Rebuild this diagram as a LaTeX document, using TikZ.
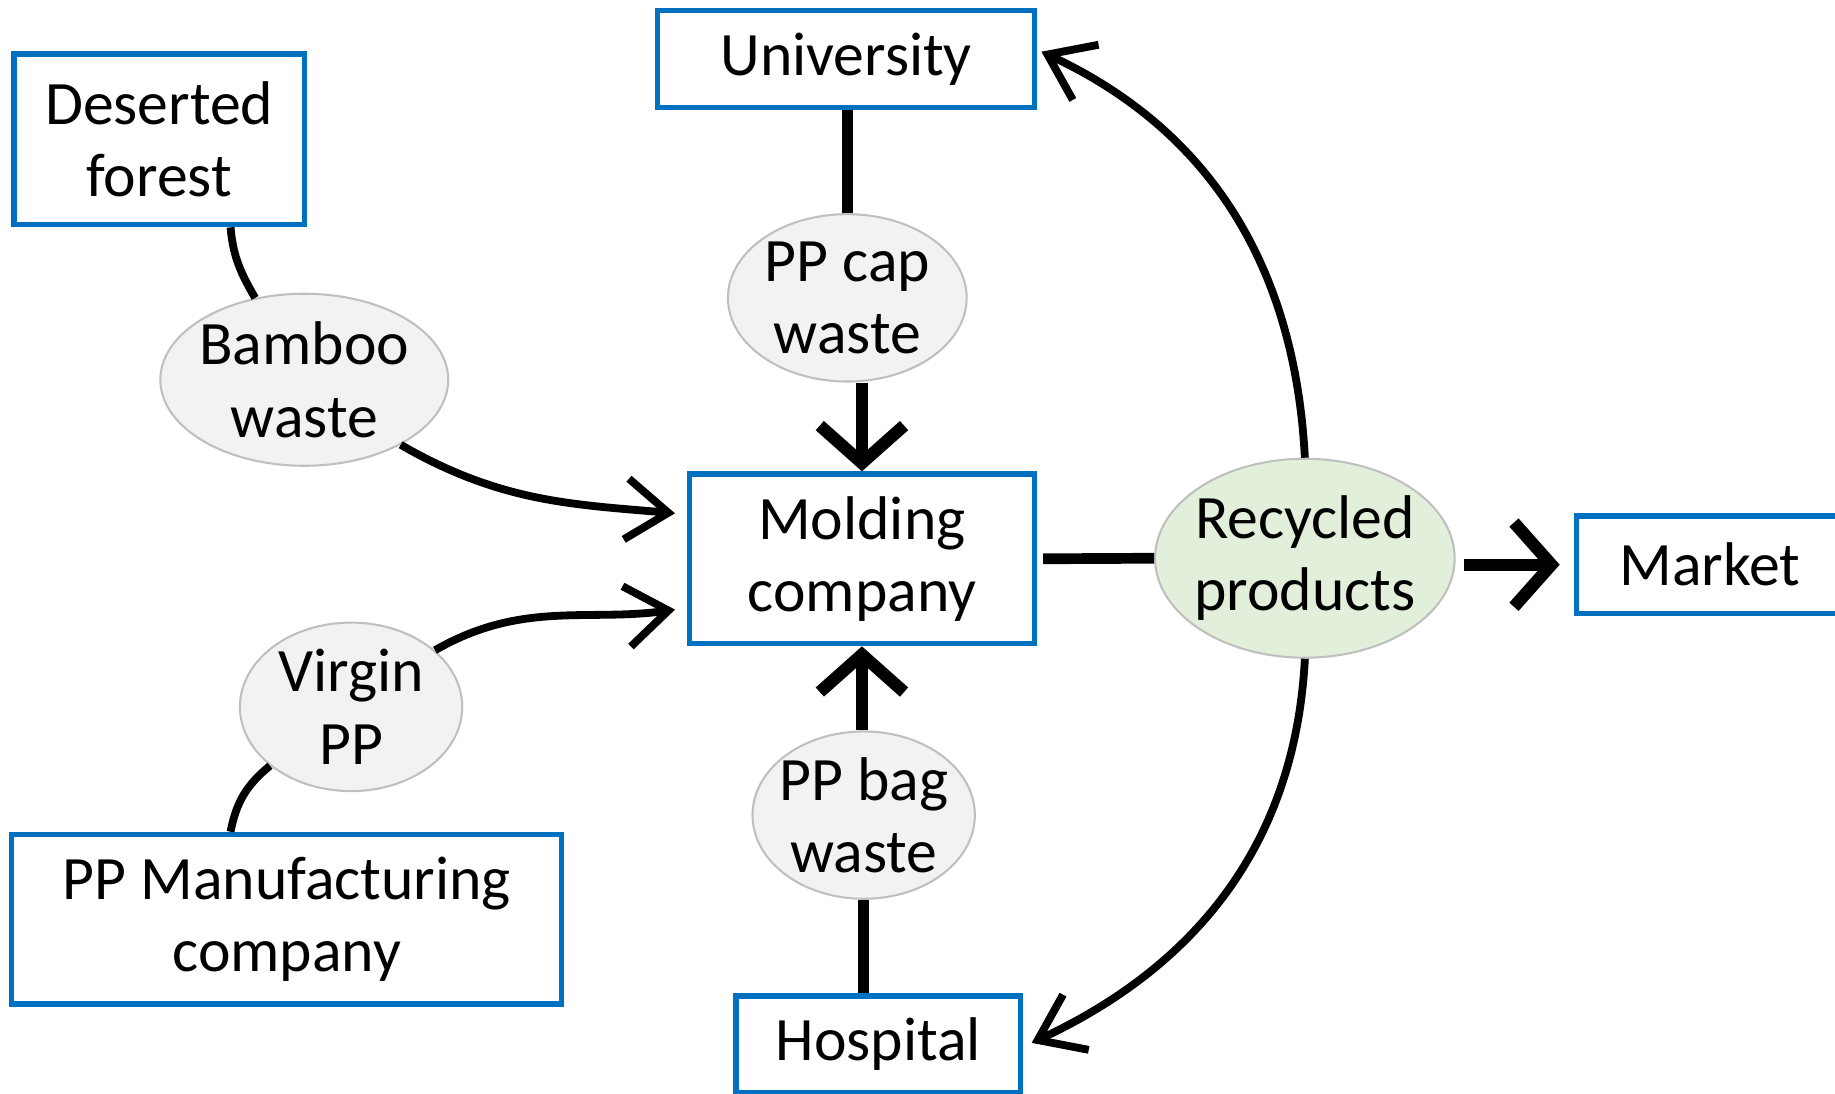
\documentclass[tikz,border=0pt]{standalone}
\usepackage{fontspec}
\setmainfont{Carlito}
\usetikzlibrary{arrows.meta}
\usetikzlibrary{shapes.geometric}

\definecolor{boxblue}{RGB}{0,112,192}
\definecolor{wastegray}{RGB}{242,242,242}
\definecolor{productgreen}{RGB}{226,239,218}

\begin{document}
\begin{tikzpicture}[
	actor/.style={draw=boxblue, line width=1.3pt, fill=white, align=center, inner sep=0pt, font=\fontsize{15pt}{17.6pt}\selectfont},
	flow/.style={ellipse, draw=black!25, line width=0.5pt, fill=wastegray, align=center, inner sep=0pt, inner xsep=-3pt, font=\fontsize{15pt}{17.6pt}\selectfont},
	link/.style={line width=1.9pt},
	thicklink/.style={line width=2.6pt},
	feed/.style={line width=1.9pt, -{Straight Barb[length=0.36cm, width=0.52cm]}},
	bigfeed/.style={line width=3pt, -{Straight Barb[length=0.32cm, width=0.72cm]}}
]
	\useasboundingbox (0,0) rectangle (15.68,9.34);
	\node[actor, minimum width=2.48cm, minimum height=1.46cm] (forest) at (1.36,8.15) {Deserted\\forest};
	\node[actor, minimum width=3.22cm, minimum height=0.83cm] (univ) at (7.23,8.835) {University};
	\node[actor, minimum width=2.95cm, minimum height=1.45cm] (molding) at (7.365,4.565) {Molding\\company};
	\node[actor, minimum width=2.28cm, minimum height=0.83cm] (market) at (14.61,4.515) {Market};
	\node[actor, minimum width=4.70cm, minimum height=1.45cm] (manuf) at (2.45,1.485) {PP Manufacturing\\company};
	\node[actor, minimum width=2.43cm, minimum height=0.83cm] (hospital) at (7.505,0.415) {Hospital};
	\node[flow, minimum width=2.46cm, minimum height=1.47cm] (bamboo) at (2.60,6.095) {Bamboo\\waste};
	\node[flow, minimum width=2.04cm, minimum height=1.43cm] (cap) at (7.24,6.795) {PP cap\\waste};
	\node[flow, minimum width=1.90cm, minimum height=1.44cm] (virgin) at (3.00,3.30) {Virgin\\PP};
	\node[flow, minimum width=1.90cm, minimum height=1.43cm] (bag) at (7.38,2.375) {PP bag\\waste};
	\node[flow, fill=productgreen, minimum width=2.56cm, minimum height=1.70cm] (recycled) at (11.15,4.57) {Recycled\\products};
	\draw[link] ([xshift=0.61cm]forest.south) to[out=-85, in=120] (bamboo.121);
	\draw[feed, shorten >=0.1cm] (bamboo.-34) to[out=-30, in=175] ([yshift=0.38cm]molding.west);
	\draw[link] (virgin.216) to[bend right=20] ([xshift=-0.48cm]manuf.north);
	\draw[feed, shorten >=0.1cm] (virgin.34) to[out=30, in=188] ([yshift=-0.42cm]molding.west);
	\draw[thicklink] (cap.north |- univ.south) -- (cap.north);
	\draw[bigfeed] (molding.north |- cap.south) -- (molding.north);
	\draw[bigfeed] (molding.south |- bag.north) -- (molding.south);
	\draw[thicklink] (bag.south) -- (bag.south |- hospital.north);
	\draw[thicklink, shorten <=0.05cm] (molding.east) -- (recycled.west);
	\draw[bigfeed, shorten <=0.07cm, shorten >=0.12cm] (market.west -| recycled.east) -- (market.west);
	\draw[feed, shorten >=0.04cm] (recycled.north) to[out=93, in=-25] ([yshift=0.08cm]univ.east);
	\draw[feed, shorten >=0.08cm] (recycled.south) to[out=-93, in=25] ([yshift=-0.02cm]hospital.east);
\end{tikzpicture}
\end{document}
